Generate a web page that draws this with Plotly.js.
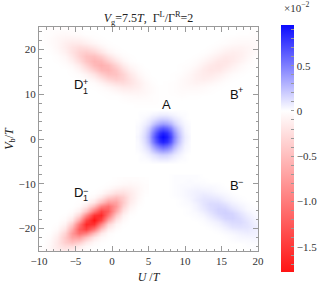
<!DOCTYPE html>
<html>
<head>
<meta charset="utf-8">
<script src="https://cdn.plot.ly/plotly-3.0.1.min.js"></script>
<style>
  html, body { margin: 0; padding: 0; background: #fff; }
  #chart { width: 332px; height: 297px; }
</style>
</head>
<body>
<div id="chart"></div>
<script>
// Current map in units of 1e-2.
// Each blob is its own little grid; outside the grids the map is zero (white).

const Z_MIN = -1.78;
const Z_MAX = 0.95;

// A: blue peak near (7, 0.5)
const aX = [3.5, 4, 4.5, 5, 5.5, 6, 6.5, 7, 7.5, 8, 8.5, 9, 9.5, 10, 10.5];
const aY = [-5.5, -4.5, -3.5, -2.5, -1.5, -0.5, 0.5, 1.5, 2.5, 3.5, 4.5, 5.5, 6.5];
const aZ = [
  [0, 0, 0, 0, 0, 0, 0, 0, 0, 0, 0, 0, 0, 0, 0],
  [0, 0.01, 0.01, 0.02, 0.04, 0.05, 0.07, 0.07, 0.07, 0.05, 0.04, 0.02, 0.01, 0.01, 0],
  [0, 0.01, 0.03, 0.06, 0.09, 0.13, 0.17, 0.18, 0.17, 0.13, 0.09, 0.06, 0.03, 0.01, 0],
  [0.01, 0.03, 0.06, 0.11, 0.19, 0.28, 0.35, 0.38, 0.35, 0.28, 0.19, 0.11, 0.06, 0.03, 0.01],
  [0.02, 0.04, 0.10, 0.19, 0.32, 0.47, 0.58, 0.63, 0.58, 0.47, 0.32, 0.19, 0.10, 0.04, 0.02],
  [0.02, 0.06, 0.13, 0.26, 0.44, 0.64, 0.80, 0.86, 0.80, 0.64, 0.44, 0.26, 0.13, 0.06, 0.02],
  [0.03, 0.07, 0.15, 0.29, 0.49, 0.71, 0.88, 0.95, 0.88, 0.71, 0.49, 0.29, 0.15, 0.07, 0.03],
  [0.02, 0.06, 0.13, 0.26, 0.44, 0.64, 0.80, 0.86, 0.80, 0.64, 0.44, 0.26, 0.13, 0.06, 0.02],
  [0.02, 0.04, 0.10, 0.19, 0.32, 0.47, 0.58, 0.63, 0.58, 0.47, 0.32, 0.19, 0.10, 0.04, 0.02],
  [0.01, 0.03, 0.06, 0.11, 0.19, 0.28, 0.35, 0.38, 0.35, 0.28, 0.19, 0.11, 0.06, 0.03, 0.01],
  [0, 0.01, 0.03, 0.06, 0.09, 0.13, 0.17, 0.18, 0.17, 0.13, 0.09, 0.06, 0.03, 0.01, 0],
  [0, 0.01, 0.01, 0.02, 0.04, 0.05, 0.07, 0.07, 0.07, 0.05, 0.04, 0.02, 0.01, 0.01, 0],
  [0, 0, 0, 0, 0, 0, 0, 0, 0, 0, 0, 0, 0, 0, 0],
];

// D1-: strong red ridge, lower left
const dmX = [-9.5, -8.5, -7.5, -6.5, -5.5, -4.5, -3.5, -2.5, -1.5, -0.5, 0.5, 1.5, 2.5, 3.5, 4.5];
const dmY = [-25, -24, -23, -22, -21, -20, -19, -18, -17, -16, -15, -14, -13, -12, -11, -10, -9];
const dmZ = [
  [-0.02, -0.06, -0.11, -0.13, -0.10, -0.04, -0.01, 0, 0, 0, 0, 0, 0, 0, 0],
  [-0.01, -0.06, -0.16, -0.25, -0.25, -0.15, -0.05, -0.01, 0, 0, 0, 0, 0, 0, 0],
  [0, -0.05, -0.17, -0.37, -0.48, -0.38, -0.18, -0.05, -0.01, 0, 0, 0, 0, 0, 0],
  [0, -0.03, -0.14, -0.40, -0.69, -0.74, -0.48, -0.19, -0.05, -0.01, 0, 0, 0, 0, 0],
  [0, -0.01, -0.09, -0.33, -0.77, -1.09, -0.95, -0.51, -0.17, -0.03, 0, 0, 0, 0, 0],
  [0, 0, -0.04, -0.21, -0.64, -1.22, -1.43, -1.02, -0.45, -0.12, -0.02, 0, 0, 0, 0],
  [0, 0, -0.01, -0.10, -0.41, -1.04, -1.62, -1.55, -0.91, -0.32, -0.07, -0.01, 0, 0, 0],
  [0, 0, 0, -0.04, -0.20, -0.67, -1.39, -1.78, -1.39, -0.67, -0.20, -0.04, 0, 0, 0],
  [0, 0, 0, -0.01, -0.07, -0.32, -0.91, -1.55, -1.62, -1.04, -0.41, -0.10, -0.01, 0, 0],
  [0, 0, 0, 0, -0.02, -0.12, -0.45, -1.02, -1.43, -1.22, -0.64, -0.21, -0.04, 0, 0],
  [0, 0, 0, 0, 0, -0.03, -0.17, -0.51, -0.95, -1.09, -0.77, -0.33, -0.09, -0.01, 0],
  [0, 0, 0, 0, 0, -0.01, -0.05, -0.19, -0.48, -0.74, -0.69, -0.40, -0.14, -0.03, 0],
  [0, 0, 0, 0, 0, 0, -0.01, -0.05, -0.18, -0.38, -0.48, -0.37, -0.17, -0.05, 0],
  [0, 0, 0, 0, 0, 0, 0, -0.01, -0.05, -0.15, -0.25, -0.25, -0.16, -0.06, -0.01],
  [0, 0, 0, 0, 0, 0, 0, 0, -0.01, -0.04, -0.10, -0.13, -0.11, -0.06, -0.02],
  [0, 0, 0, 0, 0, 0, 0, 0, 0, -0.01, -0.03, -0.05, -0.06, -0.04, -0.02],
  [0, 0, 0, 0, 0, 0, 0, 0, 0, 0, -0.01, -0.02, -0.02, -0.02, -0.01],
];

// D1+: pale red ridge, upper left
const dpX = [-9.5, -8.5, -7.5, -6.5, -5.5, -4.5, -3.5, -2.5, -1.5, -0.5, 0.5, 1.5, 2.5, 3.5, 4.5, 5.5, 6.5];
const dpY = [7.5, 8.5, 9.5, 10.5, 11.5, 12.5, 13.5, 14.5, 15.5, 16.5, 17.5, 18.5, 19.5, 20.5, 21.5, 22.5, 23.5, 24.5];
const dpZ = [
  [0, 0, 0, 0, 0, 0, 0, 0, 0, 0, 0, 0, 0, -0.01, -0.01, -0.01, -0.01],
  [0, 0, 0, 0, 0, 0, 0, 0, 0, 0, 0, -0.01, -0.02, -0.02, -0.02, -0.02, -0.01],
  [0, 0, 0, 0, 0, 0, 0, 0, 0, -0.01, -0.01, -0.03, -0.04, -0.05, -0.04, -0.02, -0.01],
  [0, 0, 0, 0, 0, 0, 0, 0, -0.01, -0.02, -0.05, -0.08, -0.09, -0.08, -0.06, -0.03, -0.01],
  [0, 0, 0, 0, 0, 0, 0, -0.01, -0.03, -0.07, -0.12, -0.16, -0.16, -0.12, -0.06, -0.03, -0.01],
  [0, 0, 0, 0, 0, 0, -0.01, -0.03, -0.09, -0.17, -0.24, -0.26, -0.21, -0.13, -0.06, -0.02, 0],
  [0, 0, 0, 0, 0, -0.01, -0.03, -0.09, -0.20, -0.32, -0.38, -0.33, -0.22, -0.11, -0.04, -0.01, 0],
  [0, 0, 0, 0, -0.01, -0.03, -0.09, -0.21, -0.37, -0.48, -0.46, -0.33, -0.18, -0.07, -0.02, 0, 0],
  [0, 0, 0, 0, -0.02, -0.08, -0.20, -0.37, -0.53, -0.56, -0.44, -0.26, -0.12, -0.04, -0.01, 0, 0],
  [0, 0, 0, -0.02, -0.06, -0.16, -0.33, -0.52, -0.60, -0.52, -0.33, -0.16, -0.06, -0.02, 0, 0, 0],
  [0, 0, -0.01, -0.04, -0.12, -0.26, -0.44, -0.56, -0.53, -0.37, -0.20, -0.08, -0.02, 0, 0, 0, 0],
  [0, 0, -0.02, -0.07, -0.18, -0.33, -0.46, -0.48, -0.37, -0.21, -0.09, -0.03, -0.01, 0, 0, 0, 0],
  [0, -0.01, -0.04, -0.11, -0.22, -0.33, -0.38, -0.32, -0.20, -0.09, -0.03, -0.01, 0, 0, 0, 0, 0],
  [0, -0.02, -0.06, -0.13, -0.21, -0.26, -0.24, -0.17, -0.09, -0.03, -0.01, 0, 0, 0, 0, 0, 0],
  [-0.01, -0.03, -0.06, -0.12, -0.16, -0.16, -0.12, -0.07, -0.03, -0.01, 0, 0, 0, 0, 0, 0, 0],
  [-0.01, -0.03, -0.06, -0.08, -0.09, -0.08, -0.05, -0.02, -0.01, 0, 0, 0, 0, 0, 0, 0, 0],
  [-0.01, -0.02, -0.04, -0.05, -0.04, -0.03, -0.01, -0.01, 0, 0, 0, 0, 0, 0, 0, 0, 0],
  [-0.01, -0.02, -0.02, -0.02, -0.02, -0.01, 0, 0, 0, 0, 0, 0, 0, 0, 0, 0, 0],
];

// B+: faint red ridge, upper right
const bpX = [7.5, 8.5, 9.5, 10.5, 11.5, 12.5, 13.5, 14.5, 15.5, 16.5, 17.5, 18.5, 19.5, 20.5, 21.5, 22.5];
const bpY = [7.5, 8.5, 9.5, 10.5, 11.5, 12.5, 13.5, 14.5, 15.5, 16.5, 17.5, 18.5, 19.5, 20.5, 21.5, 22.5, 23.5, 24.5];
const bpZ = [
  [0, 0, 0, 0, 0, 0, 0, 0, 0, 0, 0, 0, 0, 0, 0, 0],
  [0, 0, 0, 0, 0, 0, 0, 0, 0, 0, 0, 0, 0, 0, 0, 0],
  [-0.01, -0.01, -0.02, -0.01, -0.01, 0, 0, 0, 0, 0, 0, 0, 0, 0, 0, 0],
  [-0.01, -0.02, -0.03, -0.03, -0.03, -0.02, -0.01, 0, 0, 0, 0, 0, 0, 0, 0, 0],
  [-0.01, -0.02, -0.04, -0.05, -0.05, -0.04, -0.02, -0.01, 0, 0, 0, 0, 0, 0, 0, 0],
  [-0.01, -0.02, -0.04, -0.07, -0.09, -0.08, -0.06, -0.03, -0.01, 0, 0, 0, 0, 0, 0, 0],
  [0, -0.01, -0.04, -0.07, -0.11, -0.13, -0.11, -0.07, -0.03, -0.01, 0, 0, 0, 0, 0, 0],
  [0, -0.01, -0.02, -0.06, -0.11, -0.15, -0.16, -0.12, -0.07, -0.03, -0.01, 0, 0, 0, 0, 0],
  [0, 0, -0.01, -0.04, -0.09, -0.15, -0.19, -0.18, -0.12, -0.07, -0.03, -0.01, 0, 0, 0, 0],
  [0, 0, -0.01, -0.02, -0.05, -0.11, -0.17, -0.20, -0.17, -0.11, -0.05, -0.02, -0.01, 0, 0, 0],
  [0, 0, 0, -0.01, -0.03, -0.07, -0.12, -0.18, -0.19, -0.15, -0.09, -0.04, -0.01, 0, 0, 0],
  [0, 0, 0, 0, -0.01, -0.03, -0.07, -0.12, -0.16, -0.15, -0.11, -0.06, -0.02, -0.01, 0, 0],
  [0, 0, 0, 0, 0, -0.01, -0.03, -0.07, -0.11, -0.13, -0.11, -0.07, -0.04, -0.01, 0, 0],
  [0, 0, 0, 0, 0, 0, -0.01, -0.03, -0.06, -0.08, -0.09, -0.07, -0.04, -0.02, -0.01, 0],
  [0, 0, 0, 0, 0, 0, 0, -0.01, -0.02, -0.04, -0.05, -0.05, -0.04, -0.02, -0.01, 0],
  [0, 0, 0, 0, 0, 0, 0, 0, -0.01, -0.02, -0.03, -0.03, -0.03, -0.02, -0.01, 0],
  [0, 0, 0, 0, 0, 0, 0, 0, 0, 0, -0.01, -0.01, -0.02, -0.01, -0.01, 0],
  [0, 0, 0, 0, 0, 0, 0, 0, 0, 0, 0, -0.01, -0.01, -0.01, -0.01, 0],
];

// B-: faint blue ridge, lower right
const bmX = [7.5, 8.5, 9.5, 10.5, 11.5, 12.5, 13.5, 14.5, 15.5, 16.5, 17.5, 18.5, 19.5, 20.5, 21.5, 22.5, 23.5];
const bmY = [-25.5, -24.5, -23.5, -22.5, -21.5, -20.5, -19.5, -18.5, -17.5, -16.5, -15.5, -14.5, -13.5, -12.5, -11.5, -10.5, -9.5, -8.5];
const bmZ = [
  [0, 0, 0, 0, 0, 0, 0, 0, 0, 0, 0, 0, 0, 0, 0, 0, 0],
  [0, 0, 0, 0, 0, 0, 0, 0, 0, 0, 0, 0, 0.01, 0.01, 0.01, 0.01, 0],
  [0, 0, 0, 0, 0, 0, 0, 0, 0, 0, 0, 0.01, 0.01, 0.02, 0.01, 0.01, 0],
  [0, 0, 0, 0, 0, 0, 0, 0, 0, 0.01, 0.02, 0.02, 0.03, 0.02, 0.02, 0.01, 0],
  [0, 0, 0, 0, 0, 0, 0, 0, 0.01, 0.02, 0.04, 0.05, 0.05, 0.04, 0.02, 0.01, 0],
  [0, 0, 0, 0, 0, 0, 0, 0.01, 0.03, 0.05, 0.07, 0.08, 0.06, 0.04, 0.02, 0.01, 0],
  [0, 0, 0, 0, 0, 0, 0.01, 0.03, 0.06, 0.10, 0.11, 0.10, 0.07, 0.03, 0.01, 0, 0],
  [0, 0, 0, 0, 0, 0.01, 0.03, 0.06, 0.11, 0.14, 0.14, 0.10, 0.05, 0.02, 0.01, 0, 0],
  [0, 0, 0, 0, 0.01, 0.02, 0.06, 0.11, 0.16, 0.17, 0.13, 0.08, 0.04, 0.01, 0, 0, 0],
  [0, 0, 0, 0.01, 0.02, 0.05, 0.10, 0.16, 0.18, 0.16, 0.10, 0.05, 0.02, 0.01, 0, 0, 0],
  [0, 0, 0, 0.01, 0.04, 0.08, 0.13, 0.17, 0.16, 0.11, 0.06, 0.02, 0.01, 0, 0, 0, 0],
  [0, 0, 0.01, 0.02, 0.05, 0.10, 0.14, 0.14, 0.11, 0.06, 0.03, 0.01, 0, 0, 0, 0, 0],
  [0, 0, 0.01, 0.03, 0.07, 0.10, 0.11, 0.10, 0.06, 0.03, 0.01, 0, 0, 0, 0, 0, 0],
  [0, 0.01, 0.02, 0.04, 0.06, 0.08, 0.07, 0.05, 0.03, 0.01, 0, 0, 0, 0, 0, 0, 0],
  [0, 0.01, 0.02, 0.04, 0.05, 0.05, 0.04, 0.02, 0.01, 0, 0, 0, 0, 0, 0, 0, 0],
  [0, 0.01, 0.02, 0.02, 0.03, 0.02, 0.02, 0.01, 0, 0, 0, 0, 0, 0, 0, 0, 0],
  [0, 0.01, 0.01, 0.02, 0.01, 0.01, 0, 0, 0, 0, 0, 0, 0, 0, 0, 0, 0],
  [0, 0.01, 0.01, 0.01, 0.01, 0, 0, 0, 0, 0, 0, 0, 0, 0, 0, 0, 0],
];

// colorbar ticks (x 1e-2)
const cbTickVals = [0.9, 0.8, 0.7, 0.6, 0.5, 0.4, 0.3, 0.2, 0.1, 0, -0.1, -0.2, -0.3, -0.4, -0.5,
  -0.6, -0.7, -0.8, -0.9, -1.0, -1.1, -1.2, -1.3, -1.4, -1.5, -1.6, -1.7];
const cbTickText = ['', '', '', '', '0.5', '', '', '', '', '0', '', '', '', '', '\u22120.5',
  '', '', '', '', '\u22121.0', '', '', '', '', '\u22121.5', '', ''];

const SERIF = 'Liberation Serif, Times New Roman, serif';
const SANS = 'Liberation Sans, Arial, sans-serif';
const GREY = '#9a9a9a';

const SCALE = [
  [0, 'rgb(255,20,20)'],
  [-Z_MIN / (Z_MAX - Z_MIN), 'rgb(255,255,255)'],
  [1, 'rgb(10,10,255)'],
];

function blob(x, y, z, showscale) {
  return {
    type: 'heatmap', x, y, z,
    zsmooth: 'best', zmin: Z_MIN, zmax: Z_MAX,
    colorscale: SCALE, showscale, hoverinfo: 'skip',
    colorbar: {
      thickness: 13, len: 247, lenmode: 'pixels',
      x: 1.103, xanchor: 'left', xpad: 0,
      y: 0.4576, yanchor: 'middle', ypad: 0,
      outlinewidth: 0,
      tickmode: 'array', tickvals: cbTickVals, ticktext: cbTickText,
      ticks: 'inside', ticklen: 3, tickcolor: GREY,
      tickfont: { family: SERIF, size: 11, color: '#333' },
    },
  };
}

const traces = [
  blob(aX, aY, aZ, true),
  blob(dmX, dmY, dmZ, false),
  blob(dpX, dpY, dpZ, false),
  blob(bpX, bpY, bpZ, false),
  blob(bmX, bmY, bmZ, false),
];

function label(x, y, text, size) {
  return {
    x, y, text, showarrow: false, xanchor: 'center', yanchor: 'middle',
    font: { family: SANS, size, color: '#111' },
  };
}

const axisCommon = {
  ticks: 'inside', ticklen: 5, tickwidth: 1, tickcolor: GREY,
  showline: true, linecolor: GREY, linewidth: 1, mirror: 'ticks',
  showgrid: false, zeroline: false,
  tickfont: { family: SERIF, size: 11, color: '#333' },
};

const layout = {
  width: 332, height: 297,
  margin: { l: 39, r: 69, t: 27, b: 46 },
  paper_bgcolor: '#fff', plot_bgcolor: '#fff',
  showlegend: false,
  title: {
    text: '<i>V</i><sub>g</sub>=7.5<i>T</i>,  \u0393<sup>L</sup>/\u0393<sup>R</sup>=2',
    font: { family: SERIF, size: 12, color: '#222' },
    xref: 'paper', x: 0.5, xanchor: 'center',
    yref: 'container', y: 0.94, yanchor: 'middle',
  },
  xaxis: Object.assign({}, axisCommon, {
    range: [-10, 20], tick0: 0, dtick: 5,
    minor: { dtick: 1, ticks: 'inside', ticklen: 2.5, tickcolor: GREY },
    title: { text: '<i>U</i> /<i>T</i>', font: { family: SERIF, size: 12, color: '#222' }, standoff: 6 },
  }),
  yaxis: Object.assign({}, axisCommon, {
    range: [-25, 25], tick0: 0, dtick: 10,
    minor: { dtick: 2, ticks: 'inside', ticklen: 2.5, tickcolor: GREY },
    title: { text: '<i>V</i><sub>b</sub>/<i>T</i>', font: { family: SERIF, size: 12, color: '#222' }, standoff: 2 },
  }),
  annotations: [
    label(7.48, 7.81, 'A', 13),
    label(16.72, 10.04, 'B', 13),
    label(17.59, 10.94, '+', 9),
    label(16.72, -10.27, 'B', 13),
    label(17.59, -9.6, '\u2212', 9),
    label(-4.58, 12.17, 'D', 13),
    label(-3.68, 12.72, '+', 9),
    label(-3.68, 10.71, '1', 9),
    label(-4.58, -12.05, 'D', 13),
    label(-3.68, -11.5, '\u2212', 9),
    label(-3.68, -13.28, '1', 9),
    {
      xref: 'paper', yref: 'paper', x: 1.18, y: 1.09, showarrow: false,
      text: '\u00d710<sup>\u22122</sup>', xanchor: 'center', yanchor: 'middle',
      font: { family: SERIF, size: 11, color: '#333' },
    },
  ],
};

Plotly.newPlot('chart', traces, layout, { displayModeBar: false, staticPlot: true });
</script>
</body>
</html>
